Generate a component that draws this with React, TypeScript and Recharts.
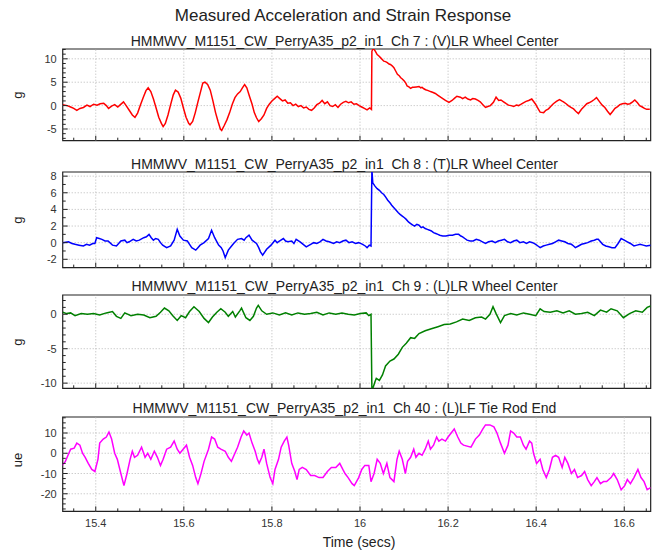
import React from 'react';
import { LineChart, Line, XAxis, YAxis, ReferenceLine, ReferenceArea } from 'recharts';

// ---------- axis ticks ----------
const timeTicks = [15.35, 15.4, 15.45, 15.5, 15.55, 15.6, 15.65, 15.7, 15.75, 15.8, 15.85, 15.9, 15.95, 16, 16.05, 16.1, 16.15, 16.2, 16.25, 16.3, 16.35, 16.4, 16.45, 16.5, 16.55, 16.6, 16.65];
const timeMajor = [15.4, 15.6, 15.8, 16, 16.2, 16.4, 16.6];
const X_DOMAIN: [number, number] = [15.325, 16.66];

const ch7Ticks = [-7, -6, -5, -4, -3, -2, -1, 0, 1, 2, 3, 4, 5, 6, 7, 8, 9, 10, 11, 12];
const ch7Major = [-5, 0, 5, 10];
const ch8Ticks = [-3, -2, -1, 0, 1, 2, 3, 4, 5, 6, 7, 8];
const ch8Major = [-2, 0, 2, 4, 6, 8];
const ch9Ticks = [-10, -9, -8, -7, -6, -5, -4, -3, -2, -1, 0, 1, 2];
const ch9Major = [-10, -5, 0];
const ch40Ticks = [-27.5, -25, -22.5, -20, -17.5, -15, -12.5, -10, -7.5, -5, -2.5, 0, 2.5, 5, 7.5, 10, 12.5, 15, 17.5];
const ch40Major = [-20, -10, 0, 10];

// ---------- Ch 7 : (V)LR Wheel Center ----------
const ch7Time = [15.325, 15.335, 15.343, 15.35, 15.357, 15.364, 15.372, 15.38, 15.387, 15.395, 15.403, 15.41, 15.418, 15.424, 15.429, 15.436, 15.443, 15.45, 15.456, 15.463, 15.469, 15.476, 15.483, 15.489, 15.495, 15.501, 15.508, 15.514, 15.519, 15.525, 15.531, 15.537, 15.543, 15.549, 15.553, 15.558, 15.564, 15.57, 15.576, 15.581, 15.587, 15.593, 15.599, 15.605, 15.611, 15.614, 15.62, 15.626, 15.632, 15.638, 15.643, 15.648, 15.654, 15.66, 15.666, 15.672, 15.678, 15.683, 15.686, 15.692, 15.698, 15.704, 15.71, 15.716, 15.722, 15.728, 15.733, 15.738, 15.743, 15.749, 15.755, 15.76, 15.765, 15.77, 15.776, 15.782, 15.788, 15.794, 15.8, 15.806, 15.812, 15.818, 15.824, 15.83, 15.836, 15.842, 15.848, 15.854, 15.86, 15.866, 15.872, 15.878, 15.884, 15.89, 15.896, 15.902, 15.908, 15.914, 15.92, 15.926, 15.932, 15.938, 15.944, 15.95, 15.956, 15.962, 15.968, 15.974, 15.98, 15.986, 15.992, 15.998, 16.004, 16.01, 16.016, 16.022, 16.026, 16.027, 16.03, 16.035, 16.039, 16.043, 16.047, 16.051, 16.054, 16.058, 16.062, 16.066, 16.069, 16.073, 16.077, 16.081, 16.085, 16.089, 16.092, 16.096, 16.1, 16.104, 16.107, 16.111, 16.115, 16.119, 16.122, 16.128, 16.134, 16.138, 16.141, 16.145, 16.149, 16.155, 16.16, 16.166, 16.171, 16.177, 16.183, 16.188, 16.194, 16.202, 16.209, 16.215, 16.22, 16.228, 16.233, 16.239, 16.245, 16.251, 16.256, 16.262, 16.268, 16.273, 16.279, 16.285, 16.29, 16.296, 16.303, 16.309, 16.315, 16.32, 16.326, 16.332, 16.337, 16.343, 16.349, 16.355, 16.36, 16.366, 16.371, 16.377, 16.383, 16.39, 16.398, 16.404, 16.409, 16.417, 16.422, 16.428, 16.434, 16.439, 16.446, 16.453, 16.458, 16.462, 16.468, 16.473, 16.479, 16.485, 16.49, 16.496, 16.503, 16.509, 16.515, 16.52, 16.526, 16.532, 16.537, 16.545, 16.55, 16.556, 16.562, 16.568, 16.574, 16.579, 16.585, 16.59, 16.596, 16.602, 16.608, 16.613, 16.619, 16.624, 16.63, 16.635, 16.641, 16.646, 16.651, 16.658];
const ch7Values = [0.2, 0.0, -0.3, -0.6, -1.0, -0.6, -0.4, 0.1, -0.2, 0.3, 0.1, 0.4, 0.5, 0.0, -0.6, -0.1, 0.2, -0.3, 0.2, 0.8, 0.0, -1.0, -2.0, -2.5, -1.6, 0.0, 1.8, 3.2, 3.8, 3.0, 1.4, -0.5, -2.5, -3.8, -4.5, -3.8, -2.0, 0.2, 2.3, 3.3, 2.9, 1.6, -0.5, -2.5, -3.8, -4.1, -3.4, -1.5, 0.8, 3.0, 4.8, 5.0, 4.5, 3.3, 1.0, -1.5, -3.5, -5.0, -5.3, -4.2, -3.0, -1.5, 0.3, 1.7, 2.5, 3.0, 3.8, 4.5, 3.8, 2.0, 0.3, -1.5, -2.6, -3.4, -2.8, -2.0, -0.6, 0.3, 1.0, 1.5, 2.0, 1.5, 1.0, 1.2, 0.5, 0.6, 0.0, 0.3, -0.2, 0.0, -0.5, -0.3, -0.8, -1.0, -0.5, 0.2, 0.5, 1.1, 0.4, 0.8, 0.0, -0.2, 0.2, -0.4, 0.3, 0.7, 0.9, 0.6, 0.8, 0.3, 0.4, 0.0, -0.3, -0.6, -0.9, -0.5, -0.8, 11.6, 12.3, 11.6, 10.9, 10.6, 10.2, 9.8, 9.5, 9.4, 9.2, 8.9, 8.8, 8.5, 8.1, 7.4, 6.7, 6.4, 6.0, 5.7, 5.3, 4.8, 4.2, 4.0, 3.7, 3.9, 3.9, 4.0, 4.1, 3.8, 3.9, 3.6, 3.4, 3.2, 3.0, 2.8, 2.6, 2.2, 1.8, 1.5, 1.1, 0.7, 1.1, 1.6, 2.0, 1.8, 1.5, 1.8, 1.4, 1.2, 1.5, 1.4, 1.1, 0.8, 0.2, -0.4, -0.2, 0.0, 0.7, 1.8, 1.1, 1.2, 0.8, 0.4, 0.1, 0.0, -0.2, 0.1, 0.0, 0.3, 0.6, 0.9, 1.1, 1.4, 0.4, -0.6, -1.4, -1.5, -1.0, -0.7, -0.1, 0.4, 0.9, 1.3, 1.0, 0.8, 0.4, 0.0, -0.4, -0.7, -1.2, -1.7, -0.8, -0.2, 0.4, 0.6, 0.9, 1.3, 1.7, 0.7, 0.1, -0.4, -1.2, -1.9, -1.2, -0.6, -0.2, 0.2, 0.4, 0.5, 0.3, 0.4, 0.8, 1.2, 0.6, 0.0, -0.3, -0.6, -0.8, -0.8];

// ---------- Ch 8 : (T)LR Wheel Center ----------
const ch8Time = [15.325, 15.338, 15.346, 15.353, 15.362, 15.372, 15.379, 15.386, 15.393, 15.398, 15.402, 15.408, 15.414, 15.421, 15.428, 15.438, 15.447, 15.452, 15.457, 15.466, 15.471, 15.476, 15.485, 15.492, 15.499, 15.509, 15.515, 15.521, 15.526, 15.531, 15.536, 15.542, 15.547, 15.552, 15.561, 15.57, 15.578, 15.585, 15.591, 15.599, 15.608, 15.613, 15.618, 15.627, 15.632, 15.637, 15.646, 15.656, 15.663, 15.67, 15.679, 15.685, 15.689, 15.694, 15.701, 15.707, 15.713, 15.722, 15.731, 15.737, 15.741, 15.748, 15.755, 15.765, 15.77, 15.774, 15.779, 15.788, 15.798, 15.807, 15.812, 15.817, 15.826, 15.831, 15.836, 15.845, 15.85, 15.855, 15.864, 15.871, 15.878, 15.888, 15.895, 15.902, 15.909, 15.916, 15.923, 15.93, 15.94, 15.947, 15.954, 15.961, 15.968, 15.975, 15.982, 15.99, 15.997, 16.006, 16.012, 16.016, 16.021, 16.025, 16.027, 16.029, 16.034, 16.039, 16.044, 16.049, 16.054, 16.058, 16.063, 16.068, 16.072, 16.077, 16.082, 16.087, 16.091, 16.096, 16.101, 16.105, 16.11, 16.115, 16.12, 16.124, 16.129, 16.134, 16.139, 16.143, 16.148, 16.153, 16.158, 16.162, 16.167, 16.172, 16.177, 16.181, 16.188, 16.195, 16.203, 16.21, 16.217, 16.224, 16.229, 16.233, 16.238, 16.243, 16.25, 16.257, 16.264, 16.271, 16.278, 16.285, 16.292, 16.3, 16.307, 16.314, 16.321, 16.328, 16.335, 16.342, 16.349, 16.356, 16.363, 16.371, 16.378, 16.385, 16.392, 16.399, 16.404, 16.409, 16.416, 16.423, 16.43, 16.437, 16.444, 16.451, 16.458, 16.465, 16.472, 16.48, 16.485, 16.489, 16.496, 16.503, 16.51, 16.517, 16.525, 16.532, 16.537, 16.541, 16.546, 16.551, 16.558, 16.565, 16.572, 16.579, 16.586, 16.593, 16.6, 16.607, 16.614, 16.622, 16.629, 16.636, 16.643, 16.65, 16.66];
const ch8Values = [0.0, 0.1, -0.1, -0.2, -0.3, -0.4, -0.2, -0.3, -0.1, -0.1, 0.6, 0.5, 0.4, 0.2, 0.2, -0.3, -0.4, -0.1, 0.2, 0.3, 0.0, 0.1, 0.4, 0.2, 0.3, 0.6, 0.7, 1.0, 0.6, 0.3, 0.5, 0.4, 0.0, -0.3, -0.6, -0.4, 0.3, 1.6, 0.8, 0.3, 0.2, -0.2, -0.6, -0.9, -0.6, -0.3, 0.0, 0.5, 1.5, 0.6, -0.3, -0.6, -1.0, -1.8, -0.9, -0.5, -0.1, 0.4, 0.5, 0.3, 0.6, 0.9, 0.3, -0.1, -0.6, -1.1, -1.5, -0.8, -0.3, 0.3, 0.0, 0.2, 0.5, 0.2, 0.1, 0.2, -0.1, 0.4, 0.1, -0.2, -0.5, -0.2, 0.0, -0.1, 0.1, 0.4, 0.2, 0.1, -0.1, 0.1, 0.0, 0.2, 0.3, 0.0, 0.1, -0.1, 0.0, -0.2, -0.4, -0.6, -0.3, -0.4, 8.8, 7.2, 6.8, 6.5, 6.3, 6.0, 5.8, 5.5, 5.1, 4.8, 4.5, 4.2, 3.9, 3.6, 3.4, 3.2, 3.0, 2.8, 2.5, 2.3, 2.1, 2.0, 2.2, 2.1, 1.8, 1.9, 1.7, 1.6, 1.5, 1.4, 1.2, 1.1, 1.0, 0.9, 0.8, 0.8, 0.9, 0.9, 1.0, 1.0, 0.8, 0.7, 0.5, 0.3, 0.2, 0.2, 0.4, 0.3, 0.1, -0.1, 0.1, 0.2, 0.0, 0.2, 0.3, 0.4, 0.1, 0.0, 0.2, 0.3, 0.0, 0.1, -0.1, 0.1, 0.0, -0.2, -0.4, -0.6, -0.4, -0.3, -0.2, -0.1, 0.1, 0.3, 0.2, 0.1, -0.1, -0.2, -0.4, -0.6, -0.4, -0.2, -0.1, 0.0, 0.2, 0.3, 0.4, 0.4, 0.1, -0.2, -0.4, -0.5, -0.6, -0.6, -0.1, 0.5, 0.3, 0.1, -0.1, -0.4, -0.3, -0.2, -0.3, -0.4, -0.3];

// ---------- Ch 9 : (L)LR Wheel Center ----------
const ch9Time = [15.325, 15.334, 15.343, 15.353, 15.367, 15.381, 15.395, 15.409, 15.424, 15.438, 15.447, 15.457, 15.466, 15.48, 15.495, 15.509, 15.523, 15.537, 15.547, 15.556, 15.566, 15.575, 15.585, 15.594, 15.604, 15.613, 15.623, 15.635, 15.646, 15.656, 15.665, 15.675, 15.684, 15.694, 15.701, 15.711, 15.717, 15.727, 15.731, 15.741, 15.75, 15.758, 15.765, 15.769, 15.777, 15.788, 15.802, 15.817, 15.831, 15.845, 15.859, 15.874, 15.888, 15.902, 15.916, 15.93, 15.945, 15.959, 15.973, 15.987, 16.001, 16.014, 16.02, 16.025, 16.027, 16.03, 16.034, 16.037, 16.044, 16.051, 16.058, 16.068, 16.077, 16.087, 16.096, 16.105, 16.115, 16.124, 16.134, 16.148, 16.162, 16.177, 16.191, 16.205, 16.219, 16.233, 16.248, 16.262, 16.276, 16.285, 16.295, 16.302, 16.309, 16.319, 16.328, 16.342, 16.356, 16.371, 16.385, 16.399, 16.409, 16.418, 16.432, 16.447, 16.461, 16.475, 16.489, 16.503, 16.517, 16.532, 16.546, 16.56, 16.57, 16.584, 16.598, 16.612, 16.626, 16.641, 16.652, 16.66];
const ch9Values = [0.3, 0.1, 0.2, -0.2, 0.1, 0.0, 0.1, -0.1, 0.2, 0.4, -0.3, -0.6, 0.2, -0.2, 0.0, -0.1, -0.5, -0.3, 0.3, 0.9, 0.5, -0.2, -0.9, -0.2, -0.5, 0.4, 1.1, 0.4, -0.6, -1.2, -0.4, 0.3, 0.8, 0.3, -0.3, 0.4, -0.4, 0.5, 0.9, -0.5, -0.9, -0.3, 0.9, 1.3, 0.5, 0.0, 0.2, -0.1, 0.2, -0.1, 0.2, 0.0, 0.1, 0.3, -0.1, 0.2, 0.0, 0.2, 0.0, -0.1, 0.1, 0.2, -0.2, 0.0, -11.0, -10.6, -9.8, -9.3, -9.6, -8.8, -7.5, -6.8, -6.5, -5.8, -4.8, -4.2, -3.4, -3.5, -2.8, -2.4, -2.1, -1.8, -1.5, -1.4, -1.1, -0.7, -0.9, -0.5, -0.4, -0.7, 0.0, 1.1, 0.1, -1.2, -0.2, 0.1, -0.1, 0.2, 0.0, -0.2, 0.8, 0.4, 0.3, 0.5, 0.2, 0.5, 0.0, 0.1, 0.3, -0.2, 0.6, 0.3, 0.8, 0.5, -0.5, 0.1, 0.5, 0.3, 1.0, 1.2];

// ---------- Ch 40 : (L)LF Tie Rod End ----------
const ch40Time = [15.324, 15.331, 15.337, 15.343, 15.351, 15.357, 15.364, 15.37, 15.376, 15.383, 15.391, 15.398, 15.405, 15.409, 15.417, 15.424, 15.43, 15.436, 15.443, 15.449, 15.457, 15.464, 15.471, 15.478, 15.483, 15.488, 15.495, 15.504, 15.512, 15.518, 15.525, 15.533, 15.54, 15.547, 15.553, 15.561, 15.57, 15.578, 15.585, 15.591, 15.606, 15.613, 15.62, 15.627, 15.632, 15.639, 15.646, 15.656, 15.663, 15.67, 15.677, 15.684, 15.694, 15.701, 15.708, 15.714, 15.722, 15.73, 15.736, 15.743, 15.748, 15.755, 15.762, 15.767, 15.771, 15.777, 15.782, 15.788, 15.796, 15.802, 15.807, 15.815, 15.821, 15.828, 15.834, 15.838, 15.845, 15.852, 15.857, 15.862, 15.869, 15.878, 15.888, 15.897, 15.907, 15.916, 15.926, 15.935, 15.945, 15.954, 15.961, 15.966, 15.973, 15.982, 15.987, 15.997, 16.004, 16.011, 16.02, 16.025, 16.032, 16.039, 16.046, 16.053, 16.061, 16.068, 16.077, 16.084, 16.089, 16.096, 16.103, 16.108, 16.115, 16.122, 16.127, 16.134, 16.141, 16.148, 16.155, 16.16, 16.167, 16.174, 16.179, 16.186, 16.194, 16.2, 16.207, 16.214, 16.222, 16.229, 16.235, 16.252, 16.262, 16.271, 16.279, 16.285, 16.295, 16.304, 16.311, 16.319, 16.328, 16.336, 16.342, 16.349, 16.356, 16.364, 16.371, 16.377, 16.385, 16.39, 16.394, 16.401, 16.409, 16.415, 16.423, 16.43, 16.437, 16.444, 16.451, 16.459, 16.465, 16.472, 16.48, 16.487, 16.494, 16.503, 16.51, 16.517, 16.525, 16.532, 16.538, 16.546, 16.553, 16.56, 16.57, 16.576, 16.584, 16.593, 16.601, 16.607, 16.614, 16.622, 16.631, 16.638, 16.645, 16.652, 16.66];
const ch40Values = [-6, -4, -1, 2, 2.5, 5, 4, 0, -2, -5, -8, -9, -3, 5, 7, 8, 10.5, 7, 0, -3, -10, -16, -10, -3, 1, -2, -1, 3, -2, 0, -3, 1, -2, -6, -3, 2, 3, 6, 2, 0, 4, -2, -6, -12, -15, -10, -4, 2, 8, 7, 3, 2, 1, -2, -4, -1, 3, 8, 11, 9, 10, 5, 1, -3, -5, -2, 2, -5, -12, -15, -8, -3, 3, 6, 8, 4, -5, -9, -13, -8, -7, -8, -11, -11, -12, -12, -9, -7, -7, -5, -8, -10, -12, -15, -16, -12, -8, -6, -6, -14, -10, -3, -5, -10, -5, -12, -14, -3, 1, -3, -10, -4, -2, 2, -2, 0, -1, 2, 6, 2, 4, 8, 6, 7, 6, 8, 10, 12, 8, 5, 4, 3, 7, 9, 12, 14, 14, 13, 10, 5, 0, 4, 11, 10, 8, 8, 4, 2, 6, 5, 0, -5, -3, -8, -12, -8, -2, -1, -2, -7, -2, -5, -10, -8, -12, -11, -9, -13, -16, -14, -12, -15, -14, -14, -12, -10, -13, -18, -16, -13, -15, -12, -8, -12, -14, -18, -17];

const FONT = '"Liberation Sans", Arial, Helvetica, sans-serif';
const AXIS_COLOR = '#222';
const GRID_COLOR = '#b8b8b8';
const TOP_PAD = 8;

const zip = (ts: number[], vs: number[]) => ts.map((t, i) => ({ t, v: vs[i] }));

const isMajorTime = (v: number) => timeMajor.some((m) => Math.abs(m - v) < 1e-6);

type PanelProps = {
  plotTop: number;
  plotHeight: number;
  xAxisHeight: number;
  showXLabels: boolean;
  times: number[];
  values: number[];
  color: string;
  domain: [number, number];
  yTicks: number[];
  yMajor: number[];
};

const PLOT_LEFT = 62.7;
const PLOT_RIGHT = 650.7;

function Panel(p: PanelProps) {
  const data = zip(p.times, p.values);
  const XTick = (props: any) => {
    const { x, y, payload } = props;
    const v = payload.value as number;
    const major = isMajorTime(v);
    return (
      <g>
        <line x1={x} x2={x} y1={y} y2={y - (major ? 5 : 3)} stroke={AXIS_COLOR} strokeWidth={1} />
        {p.showXLabels && major ? (
          <text x={x} y={y + 15.5} textAnchor="middle" fontSize={11} fontFamily={FONT} fill="#333">
            {String(v)}
          </text>
        ) : null}
      </g>
    );
  };
  const YTick = (props: any) => {
    const { x, y, payload } = props;
    const v = payload.value as number;
    const major = p.yMajor.some((m) => Math.abs(m - v) < 1e-6);
    return (
      <g>
        <line x1={x} x2={x + (major ? 5 : 3)} y1={y} y2={y} stroke={AXIS_COLOR} strokeWidth={1} />
        {major ? (
          <text x={x - 6} y={y + 4} textAnchor="end" fontSize={11} fontFamily={FONT} fill="#333">
            {String(v)}
          </text>
        ) : null}
      </g>
    );
  };
  return (
    <div style={{ position: 'absolute', left: 0, top: p.plotTop - TOP_PAD }}>
      <LineChart
        width={655}
        height={TOP_PAD + p.plotHeight + p.xAxisHeight}
        data={data}
        margin={{ top: TOP_PAD, right: 655 - PLOT_RIGHT, bottom: 0, left: 0 }}
      >
        <XAxis
          dataKey="t"
          type="number"
          domain={X_DOMAIN}
          allowDataOverflow
          ticks={timeTicks}
          interval={0}
          tickSize={0}
          tickMargin={0}
          axisLine={false}
          tickLine={false}
          height={p.xAxisHeight}
          tick={XTick}
        />
        <YAxis
          type="number"
          domain={p.domain}
          allowDataOverflow
          ticks={p.yTicks}
          interval={0}
          tickSize={0}
          tickMargin={0}
          axisLine={false}
          tickLine={false}
          width={PLOT_LEFT}
          tick={YTick}
        />
        {timeMajor.map((t) => (
          <ReferenceLine key={'vx' + t} x={t} stroke={GRID_COLOR} strokeDasharray="1 2" />
        ))}
        {p.yMajor.map((v) => (
          <ReferenceLine key={'hy' + v} y={v} stroke={GRID_COLOR} strokeDasharray="1 2" />
        ))}
        <Line
          dataKey="v"
          type="linear"
          stroke={p.color}
          strokeWidth={1.5}
          dot={false}
          isAnimationActive={false}
        />
        <ReferenceArea
          x1={X_DOMAIN[0]}
          x2={X_DOMAIN[1]}
          y1={p.domain[0]}
          y2={p.domain[1]}
          fill="none"
          stroke="#222"
          strokeWidth={1.2}
          ifOverflow="visible"
        />
      </LineChart>
    </div>
  );
}

const textStyle = (top: number, size: number, cx: number): React.CSSProperties => ({
  position: 'absolute',
  left: cx - 320,
  width: 640,
  top,
  textAlign: 'center',
  fontSize: size,
  lineHeight: `${size}px`,
  fontFamily: FONT,
  color: '#222',
  whiteSpace: 'pre',
});

const yLabelStyle = (cy: number): React.CSSProperties => ({
  position: 'absolute',
  left: 18 - 20,
  top: cy - 10,
  width: 40,
  height: 20,
  lineHeight: '20px',
  textAlign: 'center',
  fontSize: 13,
  fontFamily: FONT,
  color: '#222',
  transform: 'rotate(-90deg)',
});

export default function App() {
  return (
    <div style={{ position: 'absolute', left: 0, top: 0, width: 655, height: 552, background: '#fff', overflow: 'hidden' }}>
      <div style={textStyle(6.5, 17, 343)}>Measured Acceleration and Strain Response</div>
      <div style={textStyle(33.5, 14, 344.5)}>{'HMMWV_M1151_CW_PerryA35_p2_in1  Ch 7 : (V)LR Wheel Center'}</div>
      <div style={textStyle(157, 14, 344.5)}>{'HMMWV_M1151_CW_PerryA35_p2_in1  Ch 8 : (T)LR Wheel Center'}</div>
      <div style={textStyle(279, 14, 344.5)}>{'HMMWV_M1151_CW_PerryA35_p2_in1  Ch 9 : (L)LR Wheel Center'}</div>
      <div style={textStyle(401, 14, 344.5)}>{'HMMWV_M1151_CW_PerryA35_p2_in1  Ch 40 : (L)LF Tie Rod End'}</div>

      <Panel plotTop={49.3} plotHeight={91.7} xAxisHeight={6} showXLabels={false} times={ch7Time} values={ch7Values} color="#ff0000" domain={[-7.5, 12.1]} yTicks={ch7Ticks} yMajor={ch7Major} />
      <Panel plotTop={171.7} plotHeight={95.6} xAxisHeight={6} showXLabels={false} times={ch8Time} values={ch8Values} color="#0000ff" domain={[-3.0, 8.5]} yTicks={ch8Ticks} yMajor={ch8Major} />
      <Panel plotTop={295} plotHeight={93.3} xAxisHeight={6} showXLabels={false} times={ch9Time} values={ch9Values} color="#008000" domain={[-10.75, 2.8]} yTicks={ch9Ticks} yMajor={ch9Major} />
      <Panel plotTop={417.3} plotHeight={94.4} xAxisHeight={22} showXLabels={true} times={ch40Time} values={ch40Values} color="#ff00ff" domain={[-28.7, 17.9]} yTicks={ch40Ticks} yMajor={ch40Major} />

      <div style={yLabelStyle(95)}>g</div>
      <div style={yLabelStyle(219.5)}>g</div>
      <div style={yLabelStyle(341.7)}>g</div>
      <div style={yLabelStyle(460)}>ue</div>

      <div style={textStyle(535, 14, 359)}>Time (secs)</div>
    </div>
  );
}
